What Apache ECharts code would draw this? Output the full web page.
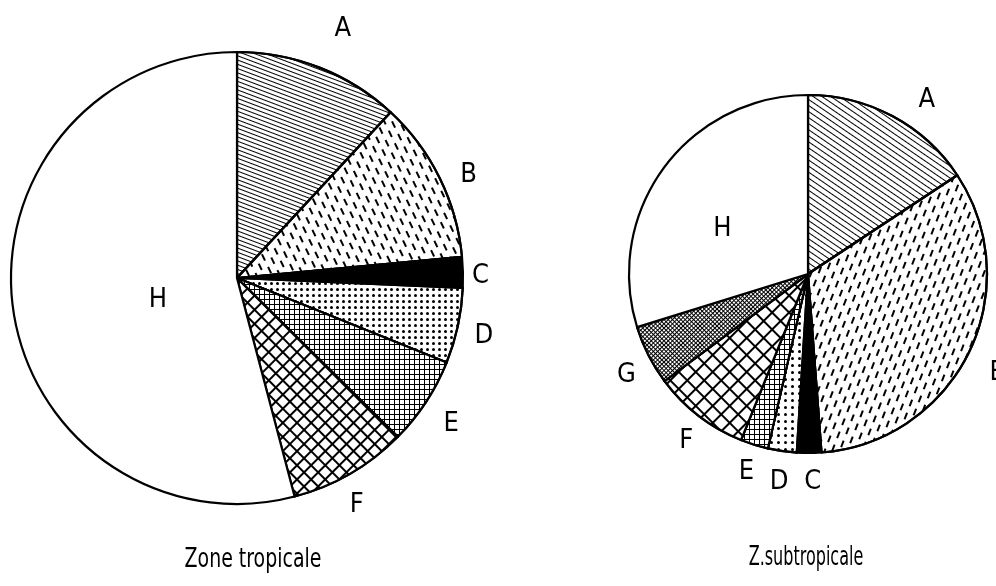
<!DOCTYPE html>
<html>
<head>
<meta charset="utf-8">
<script src="https://cdn.jsdelivr.net/npm/echarts@6/dist/echarts.min.js"></script>
<style>
  html, body { margin: 0; background: #fff; }
  #chart { width: 996px; height: 586px; }
</style>
</head>
<body>
<div id="chart"></div>
<script>
// shares (percent of the circle)
const tropNames = ['A', 'B', 'C', 'D', 'E', 'F', 'H'];
const tropValues = [11.9, 11.6, 2.2, 5.4, 6.3, 8.5, 54.1];
const subNames = ['A', 'B', 'C', 'D', 'E', 'F', 'G', 'H'];
const subValues = [15.7, 33.1, 2.2, 2.6, 2.5, 8.7, 5.4, 29.8];
const titles = ['Zone tropicale', 'Z.subtropicale'];

const FONT = "'Liberation Sans Narrow', 'DejaVu Sans Condensed', sans-serif";

// hatch patterns (decals), one set per pie
const tropPatterns = {
    A: { symbol: 'rect', symbolKeepAspect: false, color: '#000', dashArrayX: [1, 0], dashArrayY: [1, 3], rotation: 0.36 },
    B: { symbol: 'rect', symbolKeepAspect: false, color: '#000', dashArrayX: [[7, 7], [0, 7, 7, 0]], dashArrayY: [2, 5], rotation: 1.12 },
    D: { symbol: 'circle', color: '#000', dashArrayX: [3, 3], dashArrayY: [3, 3] },
    E: { symbol: 'rect', symbolKeepAspect: false, color: '#fff', backgroundColor: '#000', dashArrayX: [4, 1], dashArrayY: [4, 1] },
    F: { symbol: 'rect', symbolKeepAspect: false, color: '#fff', backgroundColor: '#000', dashArrayX: [8, 2], dashArrayY: [8, 2], rotation: Math.PI / 4 }
};
const subPatterns = {
    A: { symbol: 'rect', symbolKeepAspect: false, color: '#000', dashArrayX: [1, 0], dashArrayY: [1, 4], rotation: 0.6 },
    B: { symbol: 'rect', symbolKeepAspect: false, color: '#000', dashArrayX: [[7, 7], [0, 7, 7, 0]], dashArrayY: [2, 5], rotation: -1.2 },
    D: { symbol: 'circle', color: '#000', dashArrayX: [3, 4], dashArrayY: [3, 4] },
    E: { symbol: 'rect', symbolKeepAspect: false, color: '#fff', backgroundColor: '#000', dashArrayX: [4, 1], dashArrayY: [4, 1] },
    F: { symbol: 'rect', symbolKeepAspect: false, color: '#fff', backgroundColor: '#000', dashArrayX: [10, 2], dashArrayY: [10, 2], rotation: Math.PI / 4 },
    G: { symbol: 'rect', symbolKeepAspect: false, color: '#fff', backgroundColor: '#000', dashArrayX: [2, 1], dashArrayY: [2, 1], rotation: Math.PI / 4 }
};

// label placement: [distance outside the rim, sideways shift, downward shift]
const tropLabelPos = { A: [41, 0, 0], B: [23, 0, 7], C: [9, 0, 4], D: [17, 0, 6], E: [26, -4, 8], F: [25, -13, 10] };
const subLabelPos = { A: [29, 12, 9], B: [23, 0, 10], C: [25, -5, 4], D: [27, -10, 4], E: [24, -7, 4], F: [22, -8, 8], G: [22, -7, 10] };
// H is written inside the white slice: [left padding, right padding, downward shift]
const tropInner = { H: [72, 0, 7] };
const subInner = { H: [0, 22, 10] };

// push a letter down by d px: an empty line of height 2d above it
function shifted(d) {
    if (!d) return {};
    return { formatter: '{gap| }\n{b}', rich: { gap: { fontSize: 2, height: 2 * d, lineHeight: 2 * d } } };
}

function buildData(names, values, patterns, labelPos, inner) {
    return names.map((name, i) => {
        const item = {
            name: name,
            value: values[i],
            itemStyle: { color: name === 'C' ? '#000' : '#fff' }
        };
        if (patterns[name]) item.itemStyle.decal = patterns[name];
        if (labelPos[name]) {
            const p = labelPos[name];
            item.labelLine = { length: p[0], length2: p[1] };
            item.label = shifted(p[2]);
        }
        if (inner[name]) {
            const q = inner[name];
            item.label = Object.assign({ position: 'inside', padding: [0, q[1], 0, q[0]] }, shifted(q[2]));
        }
        return item;
    });
}

function pieSeries(center, radius, data) {
    return {
        type: 'pie',
        center: center,
        radius: radius,
        startAngle: 90,
        clockwise: true,
        avoidLabelOverlap: false,
        silent: true,
        animation: false,
        itemStyle: { borderColor: '#000', borderWidth: 2.2 },
        label: {
            show: true,
            position: 'outside',
            formatter: '{b}',
            color: '#000',
            fontFamily: FONT,
            fontSize: 27,
            distanceToLabelLine: 0
        },
        labelLine: { show: false, length: 20, length2: 0 },
        emphasis: { disabled: true },
        data: data
    };
}

const chart = echarts.init(document.getElementById('chart'), null, { renderer: 'canvas' });
chart.setOption({
    backgroundColor: '#fff',
    series: [
        pieSeries([237, 278], 226, buildData(tropNames, tropValues, tropPatterns, tropLabelPos, tropInner)),
        pieSeries([808, 274], 179, buildData(subNames, subValues, subPatterns, subLabelPos, subInner))
    ],
    graphic: [
        {
            type: 'text', x: 253, y: 560, scaleX: 0.81,
            style: { text: titles[0], fill: '#000', font: '26px ' + FONT, textAlign: 'center', textVerticalAlign: 'middle' }
        },
        {
            type: 'text', x: 806, y: 558, scaleX: 0.66,
            style: { text: titles[1], fill: '#000', font: '27px ' + FONT, textAlign: 'center', textVerticalAlign: 'middle' }
        }
    ]
});
</script>
</body>
</html>
